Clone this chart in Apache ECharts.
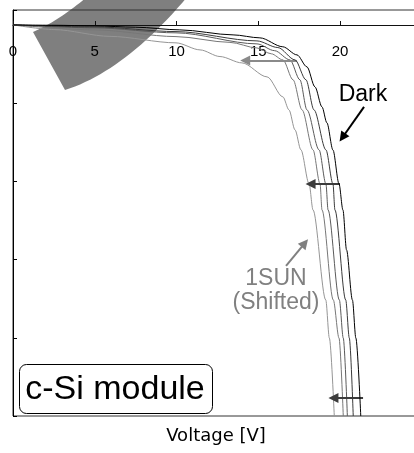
<!DOCTYPE html>
<html>
<head>
<meta charset="utf-8">
<script src="https://cdn.jsdelivr.net/npm/echarts@6/dist/echarts.min.js"></script>
<style>
  html, body { margin: 0; padding: 0; background: #ffffff; }
  #chart { width: 414px; height: 453px; }
</style>
</head>
<body>
<div id="chart"></div>
<script>
// ---- I-V curves of a c-Si module (voltage in V, current in A) ----
// Dark characteristic
const darkV = [0, 2.5, 5, 7.5, 10.2, 13.46, 15.1, 16.5, 17.37, 17.98, 18.47, 18.9, 19.2, 19.57, 19.94, 20.18, 20.4, 20.76, 20.97, 21.27];
const darkI = [0, -0.005, -0.013, -0.03, -0.064, -0.128, -0.166, -0.28, -0.384, -0.537, -0.793, -1.049, -1.253, -1.6, -2.033, -2.366, -2.877, -3.517, -4.003, -5.0];

// 1SUN characteristics, shifted by the photocurrent
const sunAV = [0, 5, 9.97, 14.92, 16.2, 17.25, 17.92, 18.41, 19.14, 19.57, 19.69, 20.35, 20.57, 20.81];
const sunAI = [0, -0.026, -0.086, -0.205, -0.29, -0.448, -0.703, -1.087, -1.598, -2.033, -2.366, -3.517, -4.003, -5.0];

const sunBV = [0, 5, 9.97, 14.92, 16.0, 16.94, 17.55, 17.98, 18.72, 19.14, 19.27, 19.96, 20.2, 20.45];
const sunBI = [0, -0.038, -0.102, -0.243, -0.33, -0.448, -0.703, -1.087, -1.598, -2.033, -2.366, -3.517, -4.003, -5.0];

const sunCV = [0, 5, 9.97, 13.27, 14.92, 15.8, 16.51, 17.13, 17.68, 18.35, 18.78, 18.9, 19.59, 19.94, 20.2];
const sunCI = [0, -0.064, -0.15, -0.224, -0.295, -0.37, -0.448, -0.703, -1.087, -1.598, -2.033, -2.366, -3.517, -4.003, -5.0];

const sunDV = [0, 2.5, 5.93, 9.97, 11.44, 12.66, 14.0, 15.54, 16.51, 16.88, 17.25, 17.61, 18.11, 18.35, 19.13, 19.35, 19.65];
const sunDI = [0, -0.06, -0.147, -0.23, -0.32, -0.405, -0.486, -0.665, -0.921, -1.087, -1.343, -1.598, -2.033, -2.366, -3.517, -4.003, -5.0];

// Shift arrows: [fromV, fromI, toV, toI]
const shiftArrowTop = [17.37, -0.454, 14.2, -0.454];
const shiftArrowMid = [20.0, -2.033, 18.2, -2.033];
const shiftArrowBot = [21.41, -4.77, 19.6, -4.77];
const darkPointer = [21.47, -1.049, 20.15, -1.44];
const sunPointer = [16.7, -3.08, 17.85, -2.79];

const pairs = (xs, ys) => xs.map((x, i) => [x, ys[i]]);

const chart = echarts.init(document.getElementById('chart'), null, { renderer: 'canvas' });

function lineSeries(name, xs, ys, color, z) {
  return {
    name: name,
    type: 'line',
    data: pairs(xs, ys),
    showSymbol: false,
    symbol: 'none',
    smooth: 0.3,
    smoothMonotone: 'x',
    z: z,
    lineStyle: { color: color, width: 1 },
    silent: true
  };
}

function arrow(a, color, width) {
  return [
    { coord: [a[0], a[1]], symbol: 'none' },
    { coord: [a[2], a[3]], symbol: 'triangle', symbolSize: 10,
      lineStyle: { color: color, width: width, type: 'solid' },
      itemStyle: { color: color } }
  ];
}

// Wedge-shaped band drawn behind the plot (quadratic edges sampled into a polygon)
function quad(p0, c, p1, n) {
  const pts = [];
  for (let k = 0; k <= n; k++) {
    const t = k / n, u = 1 - t;
    pts.push([u * u * p0[0] + 2 * u * t * c[0] + t * t * p1[0],
              u * u * p0[1] + 2 * u * t * c[1] + t * t * p1[1]]);
  }
  return pts;
}
const wedgePoints = quad([88, -4], [60, 20], [33, 32], 20)
  .concat(quad([65, 90], [125, 71], [188, -4], 24));

const font = '"Liberation Sans", Arial, sans-serif';

const darkSeries = lineSeries('Dark', darkV, darkI, '#000000', 6);
darkSeries.markLine = {
  silent: true,
  symbol: ['none', 'triangle'],
  label: { show: false },
  animation: false,
  data: [
    arrow(shiftArrowTop, '#8a8a8a', 2),
    arrow(shiftArrowMid, '#3c3c3c', 2),
    arrow(shiftArrowBot, '#3c3c3c', 2),
    arrow(darkPointer, '#000000', 2),
    arrow(sunPointer, '#808080', 2)
  ]
};

const option = {
  animation: false,
  backgroundColor: '#ffffff',
  grid: {
    left: 13, top: 10, width: 408.75, height: 406,
    outerBoundsMode: 'none',
    containLabel: false,
    show: true, borderColor: '#333333', borderWidth: 1,
    backgroundColor: 'transparent'
  },
  xAxis: {
    type: 'value',
    position: 'top',
    offset: -15,
    min: 0, max: 25, interval: 5,
    axisLine: { show: true, onZero: false, lineStyle: { color: '#111111', width: 1 } },
    axisTick: { show: true, inside: false, length: 4, lineStyle: { color: '#111111' } },
    axisLabel: { show: true, inside: true, color: '#000000', fontSize: 15, fontFamily: font, margin: 19,
                 hideOverlap: false, showMinLabel: true, showMaxLabel: true },
    splitLine: { show: false }
  },
  yAxis: {
    type: 'value',
    min: -5, max: 0.19, interval: 1,
    axisLine: { show: true, onZero: false, lineStyle: { color: '#000000', width: 1 } },
    axisTick: { show: true, inside: true, length: 4, lineStyle: { color: '#000000' } },
    axisLabel: { show: false },
    splitLine: { show: false }
  },
  graphic: [
    {
      type: 'polygon', z: -10, silent: true,
      shape: { points: wedgePoints },
      style: { fill: '#7f7f7f' }
    },
    {
      type: 'text', x: 363, y: 95, z: 10, silent: true,
      style: { text: 'Dark', font: '23px ' + font, fill: '#000000', textAlign: 'center', textVerticalAlign: 'middle' }
    },
    {
      type: 'text', x: 276, y: 279, z: 10, silent: true,
      style: { text: '1SUN', font: '23px ' + font, fill: '#808080', textAlign: 'center', textVerticalAlign: 'middle' }
    },
    {
      type: 'text', x: 276, y: 303, z: 10, silent: true,
      style: { text: '(Shifted)', font: '23px ' + font, fill: '#808080', textAlign: 'center', textVerticalAlign: 'middle' }
    },
    {
      type: 'rect', z: 10, silent: true,
      shape: { x: 19.5, y: 364.5, width: 193, height: 49, r: 7 },
      style: { fill: '#ffffff', stroke: '#000000', lineWidth: 1 }
    },
    {
      type: 'text', x: 115, y: 390, z: 11, silent: true,
      style: { text: 'c-Si module', font: '34px ' + font, fill: '#000000', textAlign: 'center', textVerticalAlign: 'middle' }
    },
    {
      type: 'text', x: 216, y: 436, z: 10, silent: true,
      style: { text: 'Voltage [V]', font: '18px "DejaVu Sans", sans-serif', fill: '#000000', textAlign: 'center', textVerticalAlign: 'middle' }
    }
  ],
  series: [
    lineSeries('1SUN shifted (d)', sunDV, sunDI, '#959595', 2),
    lineSeries('1SUN shifted (c)', sunCV, sunCI, '#777777', 3),
    lineSeries('1SUN shifted (b)', sunBV, sunBI, '#5a5a5a', 4),
    lineSeries('1SUN shifted (a)', sunAV, sunAI, '#3a3a3a', 5),
    darkSeries
  ]
};

chart.setOption(option);
</script>
</body>
</html>
